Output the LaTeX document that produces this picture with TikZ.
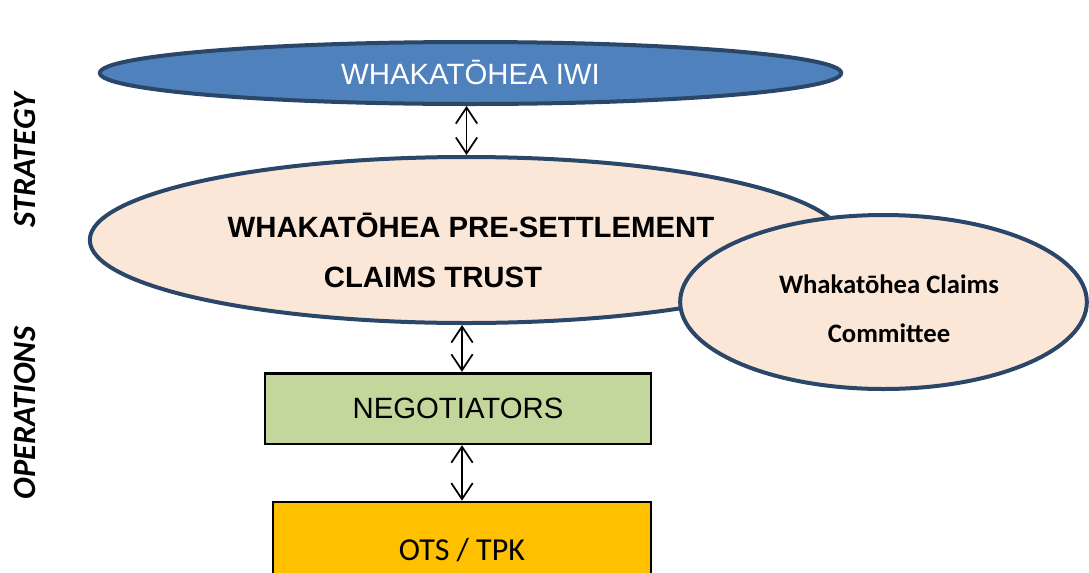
\documentclass[tikz,border=0pt]{standalone}
\usepackage{fontspec}
\setmainfont{Liberation Sans}
\newfontfamily\calibri{Carlito}
\usetikzlibrary{shapes.geometric,arrows.meta}

\definecolor{iwiblue}{HTML}{4F81BD}
\definecolor{rimblue}{HTML}{2A4668}
\definecolor{peach}{HTML}{FBE7D8}
\definecolor{leaf}{HTML}{C3D69B}
\definecolor{amber}{HTML}{FFC000}

\begin{document}
\begin{tikzpicture}[x=0.75pt,y=-0.75pt,
	oval/.style={ellipse,draw=rimblue,line width=3pt,inner sep=0pt},
	box/.style={rectangle,draw=black,line width=2pt,inner sep=0pt},
	dbl/.style={{Straight Barb[length=12pt,width=16pt]}-{Straight Barb[length=12pt,width=16pt]},line width=1.3pt},
	side/.style={rotate=90,font=\calibri\bfseries\itshape\fontsize{24.3}{28}\selectfont}]
	\useasboundingbox (0,0) rectangle (1089,572);
	\clip (0,0) rectangle (1089,572);
	% side labels
	\node[side] (strat) at (25,160) {STRATEGY};
	\node[side] (ops) at (25,413) {OPERATIONS};
	% ovals
	\node[oval,fill=iwiblue,minimum width=556pt,minimum height=46.5pt,
		text=white,font=\fontsize{22}{26}\selectfont] (iwi) at (470.5,73) {WHAKATŌHEA IWI};
	\node[oval,fill=peach,minimum width=565pt,minimum height=124.5pt] (trust) at (466.5,240) {};
	\node[align=center,font=\bfseries\fontsize{22}{37.5}\selectfont] (trustlbl) at (471,250)
		{WHAKATŌHEA PRE-SETTLEMENT\\CLAIMS TRUST\hspace*{57pt}};
	\node[oval,fill=peach,minimum width=305pt,minimum height=130.5pt] (cttee) at (883.5,302) {};
	\node[align=center,font=\calibri\bfseries\fontsize{20}{36.75}\selectfont] (ctteelbl)
		at (889,308.5) {Whakatōhea Claims\\Committee};
	% boxes
	\node[box,fill=leaf,minimum width=289.5pt,minimum height=53pt,
		font=\fontsize{22}{26}\selectfont] (nego) at (458,408.5) {NEGOTIATORS};
	\node[box,fill=amber,minimum width=283.5pt,minimum height=72pt,
		font=\calibri\fontsize{24}{28}\selectfont] (ots) at (462,550) {OTS / TPK};
	% links
	\draw[dbl] (iwi.south -| trust.north) -- (trust.north);
	\draw[dbl] (trust.south -| ots.north) -- (nego.north -| ots.north);
	\draw[dbl] (nego.south -| ots.north) -- (ots.north);
\end{tikzpicture}
\end{document}
